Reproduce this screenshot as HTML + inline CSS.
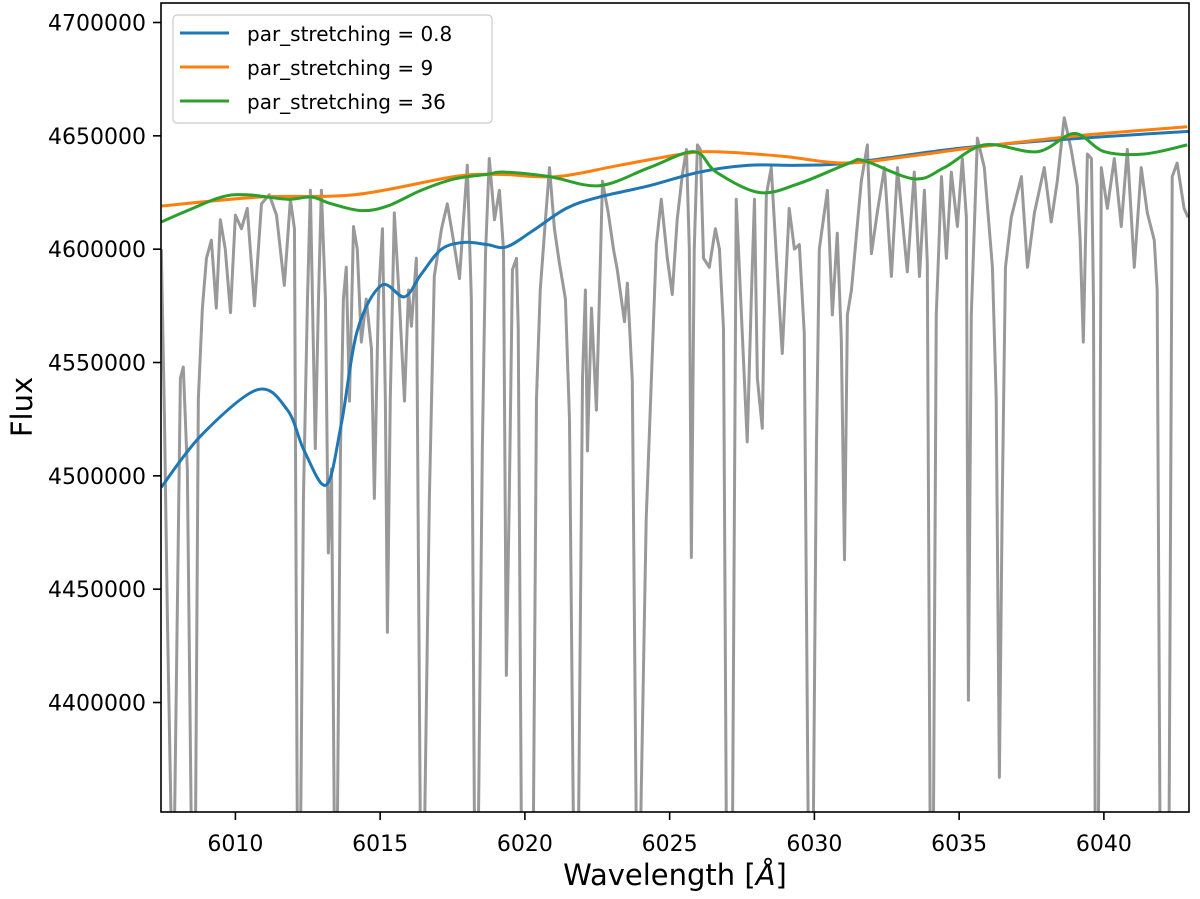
<!DOCTYPE html>
<html><head><meta charset="utf-8"><style>
html,body{margin:0;padding:0;background:#fff;}
svg{display:block;font-family:"DejaVu Sans","Liberation Sans",sans-serif;}
</style></head><body>
<svg id="chart" width="1200" height="899" viewBox="0 0 1200 899">
<defs><clipPath id="clip"><rect x="161" y="3" width="1028" height="809"/></clipPath></defs>
<g id="grid"></g>
</svg>
<script>
const specWl=[6007.44,6007.55,6007.65,6007.79,6007.89,6007.99,6008.10,6008.20,6008.34,6008.48,6008.62,6008.72,6008.86,6009.00,6009.17,6009.34,6009.48,6009.65,6009.83,6010.00,6010.21,6010.41,6010.66,6010.90,6011.17,6011.42,6011.69,6011.90,6012.04,6012.14,6012.25,6012.35,6012.49,6012.59,6012.76,6012.87,6012.97,6013.11,6013.21,6013.32,6013.42,6013.52,6013.63,6013.73,6013.83,6013.94,6014.08,6014.21,6014.35,6014.52,6014.70,6014.80,6014.94,6015.08,6015.18,6015.25,6015.35,6015.49,6015.66,6015.84,6015.98,6016.08,6016.25,6016.39,6016.53,6016.70,6016.87,6017.12,6017.32,6017.53,6017.74,6017.88,6018.01,6018.15,6018.26,6018.39,6018.53,6018.64,6018.77,6018.95,6019.12,6019.26,6019.36,6019.46,6019.57,6019.71,6019.77,6019.88,6020.09,6020.29,6020.40,6020.53,6020.71,6020.85,6021.02,6021.19,6021.40,6021.54,6021.68,6021.85,6021.99,6022.09,6022.16,6022.30,6022.47,6022.68,6022.88,6023.06,6023.19,6023.44,6023.54,6023.71,6023.85,6023.99,6024.19,6024.37,6024.54,6024.71,6024.92,6025.09,6025.26,6025.44,6025.58,6025.68,6025.75,6025.85,6025.96,6026.06,6026.17,6026.37,6026.58,6026.72,6026.86,6026.96,6027.17,6027.30,6027.44,6027.68,6027.82,6027.93,6028.03,6028.20,6028.34,6028.51,6028.69,6028.89,6029.13,6029.31,6029.48,6029.65,6029.79,6029.96,6030.07,6030.17,6030.45,6030.62,6030.79,6030.93,6031.04,6031.14,6031.28,6031.45,6031.62,6031.83,6031.97,6032.17,6032.42,6032.66,6032.87,6033.21,6033.45,6033.63,6033.80,6033.90,6034.00,6034.11,6034.21,6034.39,6034.56,6034.73,6034.94,6035.11,6035.25,6035.32,6035.42,6035.63,6035.87,6036.15,6036.28,6036.39,6036.49,6036.60,6036.80,6037.15,6037.36,6037.60,6037.94,6038.18,6038.39,6038.63,6038.87,6039.08,6039.18,6039.29,6039.43,6039.57,6039.64,6039.70,6039.81,6039.91,6040.12,6040.36,6040.60,6040.81,6041.05,6041.29,6041.50,6041.74,6041.84,6041.94,6042.05,6042.15,6042.25,6042.36,6042.53,6042.77,6042.91];
const specFluxK=[4600,4525,4438,4340,4340,4437,4543,4548,4503,4340,4340,4534,4574,4596,4604,4574,4613,4600,4572,4615,4609,4618,4575,4620,4624,4615,4584,4622,4609,4340,4340,4490,4578,4626,4512,4578,4626,4578,4466,4503,4340,4340,4511,4578,4592,4533,4610,4600,4559,4578,4556,4490,4578,4609,4534,4431,4534,4616,4578,4533,4582,4566,4596,4340,4340,4490,4588,4609,4620,4604,4587,4613,4637,4578,4340,4340,4512,4598,4640,4613,4626,4600,4412,4490,4591,4596,4565,4340,4340,4340,4534,4582,4613,4636,4609,4594,4578,4525,4340,4340,4543,4582,4511,4574,4529,4630,4616,4600,4591,4568,4585,4542,4340,4340,4481,4543,4602,4622,4596,4580,4613,4633,4644,4600,4464,4600,4646,4644,4596,4592,4609,4600,4565,4340,4340,4622,4582,4515,4578,4622,4543,4521,4624,4636,4596,4554,4618,4600,4602,4563,4340,4340,4512,4600,4626,4571,4607,4560,4463,4571,4582,4606,4630,4646,4598,4616,4636,4588,4636,4590,4634,4588,4626,4594,4340,4340,4571,4632,4596,4634,4610,4640,4614,4401,4571,4649,4636,4592,4534,4367,4490,4592,4614,4632,4592,4616,4636,4612,4630,4658,4644,4628,4604,4559,4642,4640,4578,4340,4340,4636,4618,4640,4610,4644,4592,4636,4616,4604,4582,4340,4340,4340,4340,4632,4638,4618,4614];
const blueWl=[6007.44,6008.83,6010.76,6011.80,6012.38,6013.14,6013.66,6014.21,6015.04,6015.84,6016.42,6017.12,6017.91,6018.70,6019.36,6020.26,6021.43,6022.57,6024.30,6026.03,6027.75,6029.48,6031.21,6034.66,6038.11,6042.95];
const blueFluxK=[4495,4518,4538,4529,4511,4496,4523,4564,4584,4579,4589,4600,4603,4602,4601,4608,4618,4623,4628,4634,4637,4637,4638,4644,4648,4652];
const orangeWl=[6007.44,6010.83,6014.11,6017.56,6019.12,6021.09,6023.26,6025.44,6026.61,6028.89,6031.04,6033.28,6035.63,6039.08,6042.88];
const orangeFluxK=[4619,4623,4624,4632,4633,4632,4637,4642,4643,4641,4638,4641,4645,4650,4654];
const greenWl=[6007.44,6008.34,6009.52,6010.41,6011.80,6012.62,6013.32,6014.35,6015.25,6016.42,6017.56,6018.70,6019.29,6020.85,6022.57,6024.30,6025.85,6026.61,6028.10,6029.48,6031.21,6031.73,6033.45,6034.49,6035.87,6037.70,6038.98,6040.02,6041.40,6042.88];
const greenFluxK=[4612,4617,4623,4624,4622,4623,4620,4617,4619,4626,4631,4633,4634,4632,4628,4636,4643,4634,4625,4629,4638,4639,4631,4636,4646,4643,4651,4643,4642,4646];
const xTicks=[6010,6015,6020,6025,6030,6035,6040];
const yTicks=[4400000,4450000,4500000,4550000,4600000,4650000,4700000];
const legendLabels=["par_stretching = 0.8","par_stretching = 9","par_stretching = 36"];

const NS="http://www.w3.org/2000/svg";
const L=161,R=1189,T=3,B=812;
const xMin=6007.43,xMax=6042.94,yMin=4351700,yMax=4708600;
const xs=v=>L+(v-xMin)/(xMax-xMin)*(R-L);
const ys=v=>B-(v-yMin)/(yMax-yMin)*(B-T);
const svg=document.getElementById('chart');
function mk(tag,attrs,parent){const e=document.createElementNS(NS,tag);for(const k in attrs)e.setAttribute(k,attrs[k]);(parent||svg).appendChild(e);return e;}
function linePath(wl,fk){return wl.map((w,i)=>(i?'L':'M')+xs(w).toFixed(2)+' '+ys(fk[i]*1000).toFixed(2)).join(' ');}
function smoothPath(wl,fk){
  const p=wl.map((w,i)=>[xs(w),ys(fk[i]*1000)]);
  let d='M'+p[0][0].toFixed(2)+' '+p[0][1].toFixed(2);
  for(let i=0;i<p.length-1;i++){
    const p0=p[Math.max(0,i-1)],p1=p[i],p2=p[i+1],p3=p[Math.min(p.length-1,i+2)];
    const c1=[p1[0]+(p2[0]-p0[0])/6,p1[1]+(p2[1]-p0[1])/6];
    const c2=[p2[0]-(p3[0]-p1[0])/6,p2[1]-(p3[1]-p1[1])/6];
    d+=' C'+c1[0].toFixed(2)+' '+c1[1].toFixed(2)+' '+c2[0].toFixed(2)+' '+c2[1].toFixed(2)+' '+p2[0].toFixed(2)+' '+p2[1].toFixed(2);
  }
  return d;
}
const plot=mk('g',{'clip-path':'url(#clip)'});


const spec=mk('path',{d:linePath(specWl,specFluxK),fill:'none',stroke:'#999999','stroke-width':3,'stroke-linejoin':'round'},plot);


const series=[[blueWl,blueFluxK,'#1f77b4','fit-line-0-8'],[orangeWl,orangeFluxK,'#ff7f0e','fit-line-9'],[greenWl,greenFluxK,'#2ca02c','fit-line-36']];
series.forEach(s=>{
  const p=mk('path',{d:smoothPath(s[0],s[1]),fill:'none',stroke:s[2],'stroke-width':3},plot);
  
  
});
const frame=mk('rect',{x:L,y:T,width:R-L,height:B-T,fill:'none',stroke:'#000','stroke-width':1.6});


xTicks.forEach(t=>{
  const x=xs(t);
  const tk=mk('line',{x1:x,x2:x,y1:B,y2:B+8,stroke:'#000','stroke-width':1.6});
  
  
  const tx=mk('text',{x:x,y:851,'text-anchor':'middle','font-size':22});
  tx.textContent=t;
  
  
});
yTicks.forEach(t=>{
  const y=ys(t);
  const tk=mk('line',{x1:L-8,x2:L,y1:y,y2:y,stroke:'#000','stroke-width':1.6});
  
  
  const tx=mk('text',{x:146,y:y+8,'text-anchor':'end','font-size':22});
  tx.textContent=t;
  
  
});
const xl=mk('text',{x:675,y:885,'text-anchor':'middle','font-size':29});
xl.innerHTML='Wavelength [<tspan font-style="italic">Å</tspan>]';


const yl=mk('text',{x:0,y:0,'text-anchor':'middle','font-size':29,transform:'translate(32,407) rotate(-90)'});
yl.textContent='Flux';


const lg=mk('g',{});


const lbox=mk('rect',{x:173,y:15,width:319,height:108,rx:4,fill:'#fff','fill-opacity':0.8,stroke:'#cccccc','stroke-width':1.2},lg);


legendLabels.forEach((lab,i)=>{
  const y=33+i*34;
  const ln=mk('line',{x1:180,x2:229,y1:y,y2:y,stroke:series[i][2],'stroke-width':3},lg);
  
  
  const tx=mk('text',{x:247,y:y+8,'font-size':20},lg);
  tx.textContent=lab;
  
  
});
</script>
</body></html>
